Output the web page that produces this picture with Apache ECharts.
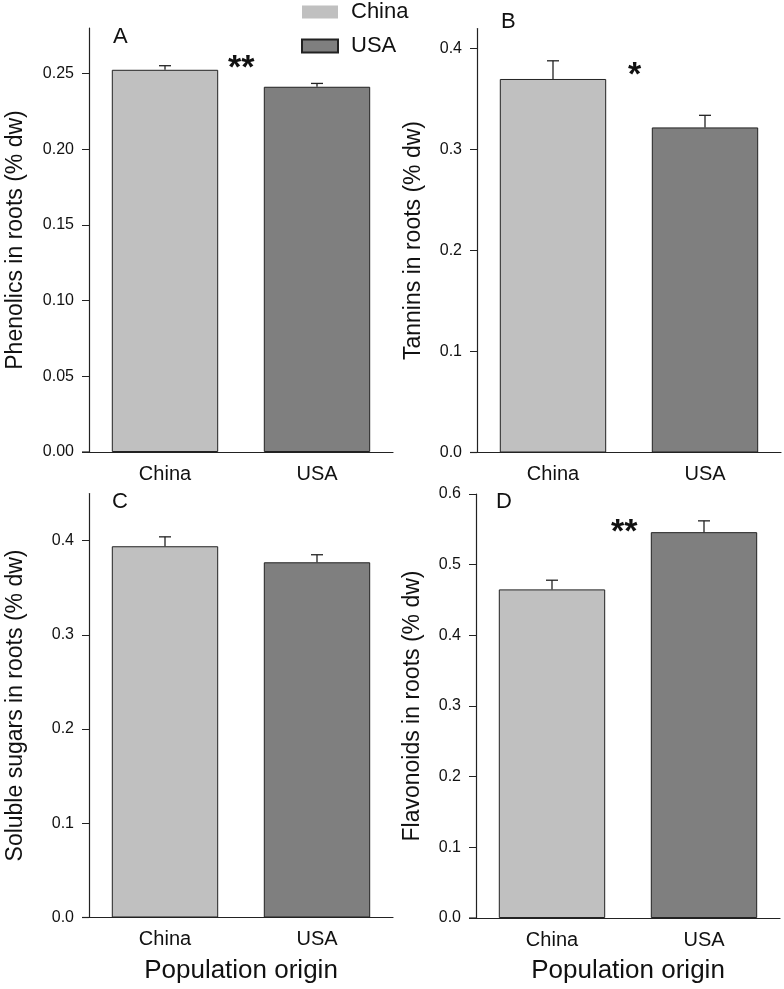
<!DOCTYPE html>
<html>
<head>
<meta charset="utf-8">
<script src="https://cdn.jsdelivr.net/npm/echarts@6/dist/echarts.min.js"></script>
<style>
html,body{margin:0;padding:0;background:#fff;}
#chart{width:784px;height:989px;}
</style>
</head>
<body>
<div id="chart"></div>
<script>
// ---- data ----
const categories = ['China', 'USA'];
const phenolicsMean = [0.2524, 0.2412];
const phenolicsErr  = [0.0027, 0.0022];
const tanninsMean   = [0.370, 0.322];
const tanninsErr    = [0.018, 0.012];
const sugarsMean    = [0.394, 0.377];
const sugarsErr     = [0.010, 0.008];
const flavonoidsMean = [0.465, 0.546];
const flavonoidsErr  = [0.013, 0.016];

const ticksA = [0, 0.05, 0.10, 0.15, 0.20, 0.25];
const ticksB = [0, 0.1, 0.2, 0.3, 0.4];
const ticksC = [0, 0.1, 0.2, 0.3, 0.4];
const ticksD = [0, 0.1, 0.2, 0.3, 0.4, 0.5, 0.6];

const yNames = ['Phenolics in roots (% dw)', 'Tannins in roots (% dw)',
                'Soluble sugars in roots (% dw)', 'Flavonoids in roots (% dw)'];
const panelLetters = ['A', 'B', 'C', 'D'];
const signif = ['**', '*', '', '**'];
const xName = 'Population origin';

// ---- layout / style ----
const FONT = '"Liberation Sans", Arial, sans-serif';
const colors = ['#c0c0c0', '#7f7f7f'];
const lineCol = '#222';

const panels = [
  {mean: phenolicsMean, err: phenolicsErr, ticks: ticksA, max: 0.28, dec: 2, grid: {left: 89, top: 28, width: 304, height: 424}, nameGap: 62, letter: [113, 26], star: [228, 52]},
  {mean: tanninsMean, err: tanninsErr, ticks: ticksB, max: 0.42, dec: 1, grid: {left: 477, top: 28.5, width: 304, height: 424}, nameGap: 52, letter: [501, 11], star: [628, 59]},
  {mean: sugarsMean, err: sugarsErr, ticks: ticksC, max: 0.45, dec: 1, grid: {left: 89, top: 493.5, width: 304, height: 424}, nameGap: 62, letter: [112, 491], star: [0, 0]},
  {mean: flavonoidsMean, err: flavonoidsErr, ticks: ticksD, max: 0.6, dec: 1, grid: {left: 476, top: 494, width: 304, height: 424}, nameGap: 52, letter: [496, 491], star: [611, 516]}
];

const grid = [], xAxis = [], yAxis = [], series = [], graphic = [];
panels.forEach((p, i) => {
  grid.push(Object.assign({containLabel: false}, p.grid));
  xAxis.push({
    type: 'category', gridIndex: i, data: categories,
    axisLine: {show: true, lineStyle: {color: lineCol, width: 1.2}},
    axisTick: {show: false},
    axisLabel: {color: '#111', fontFamily: FONT, fontSize: 20, margin: 12},
    name: i >= 2 ? xName : '',
    nameLocation: 'middle', nameGap: 40,
    nameTextStyle: {color: '#111', fontFamily: FONT, fontSize: 26}
  });
  yAxis.push({
    type: 'value', gridIndex: i, min: 0, max: p.max,
    splitLine: {show: false},
    axisLine: {show: true, lineStyle: {color: lineCol, width: 1.2}},
    axisTick: {show: true, length: 7, lineStyle: {color: lineCol}, customValues: p.ticks},
    axisLabel: {color: '#111', fontFamily: FONT, fontSize: 16, margin: 15,
      customValues: p.ticks, formatter: v => v.toFixed(p.dec)},
    name: yNames[i], nameLocation: 'middle', nameGap: p.nameGap,
    nameTextStyle: {color: '#111', fontFamily: FONT, fontSize: 23}
  });
  categories.forEach((c, k) => {
    series.push({
      type: 'bar', name: c, xAxisIndex: i, yAxisIndex: i,
      barWidth: '70%', barGap: '-100%',
      itemStyle: {color: colors[k], borderColor: lineCol, borderWidth: 1},
      data: categories.map((_, j) => j === k ? p.mean[j] : '-'),
      z: 2
    });
  });
  series.push({
    type: 'custom', xAxisIndex: i, yAxisIndex: i, z: 3, silent: true,
    data: categories.map((c, j) => [j, p.mean[j], p.mean[j] + p.err[j]]),
    renderItem: (params, api) => {
      const base = api.coord([api.value(0), api.value(1)]);
      const top = api.coord([api.value(0), api.value(2)]);
      const hw = 6;
      return {type: 'group', children: [
        {type: 'line', shape: {x1: base[0], y1: base[1], x2: top[0], y2: top[1]}, style: {stroke: lineCol, lineWidth: 1.3}},
        {type: 'line', shape: {x1: top[0] - hw, y1: top[1], x2: top[0] + hw, y2: top[1]}, style: {stroke: lineCol, lineWidth: 1.3}}
      ]};
    }
  });
  // axis stub to the left of y axis
  graphic.push({type: 'line', shape: {x1: p.grid.left - 7, y1: p.grid.top + p.grid.height, x2: p.grid.left, y2: p.grid.top + p.grid.height}, style: {stroke: lineCol, lineWidth: 1.2}});
  graphic.push({type: 'text', left: p.letter[0], top: p.letter[1], style: {text: panelLetters[i], font: '22px ' + FONT, fill: '#111'}});
  if (signif[i]) graphic.push({type: 'text', left: p.star[0], top: p.star[1], style: {text: signif[i], font: 'bold 34px ' + FONT, fill: '#111'}});
});

const chart = echarts.init(document.getElementById('chart'), null, {renderer: 'canvas'});
chart.setOption({
  animation: false,
  backgroundColor: '#fff',
  legend: {
    orient: 'vertical', left: 296, top: -4, itemWidth: 36, itemHeight: 13, itemGap: 12,
    icon: 'rect',
    textStyle: {fontFamily: FONT, fontSize: 22, color: '#111', padding: [0, 0, 0, 8]},
    data: [{name: 'China', itemStyle: {borderWidth: 0}}, {name: 'USA'}]
  },
  grid, xAxis, yAxis, series, graphic
});
</script>
</body>
</html>
